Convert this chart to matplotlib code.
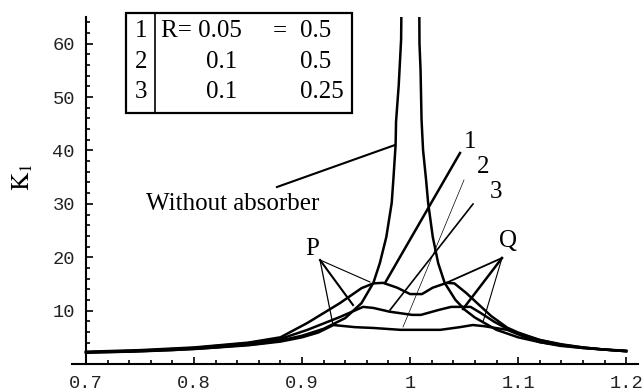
import matplotlib
matplotlib.use("Agg")
import matplotlib.pyplot as plt
from matplotlib.ticker import MultipleLocator, FixedLocator, FixedFormatter

plt.rcParams['mathtext.fontset'] = 'stix'

# without absorber (left and right branch)
wa_x = [0.70, 0.74, 0.78, 0.82, 0.86, 0.88, 0.90, 0.92, 0.94, 0.955, 0.966, 0.972, 0.978,
        0.983, 0.9845, 0.9866, 0.987, 0.9895, 0.9917, 0.992]
wa_y = [2.2, 2.3, 2.6, 3.1, 3.8, 4.4, 5.3, 6.6, 8.6, 11.4, 15.2, 18.9, 23.8,
        30.2, 34.5, 41.1, 45.4, 52.3, 60.8, 67.0]
wa_x2 = [1.0085, 1.0087, 1.0097, 1.0106, 1.012, 1.0148, 1.0167, 1.021, 1.026, 1.032, 1.042,
         1.051, 1.06, 1.08, 1.10, 1.12, 1.14, 1.16, 1.18, 1.20]
wa_y2 = [67.0, 60.0, 55.0, 45.8, 40.1, 34.5, 30.2, 23.8, 18.9, 15.2, 12.0,
         10.1, 8.7, 6.4, 5.0, 4.1, 3.5, 3.0, 2.7, 2.4]

# curve 1
c1_x = [0.70, 0.75, 0.80, 0.85, 0.88, 0.905, 0.935, 0.955, 0.966, 0.975, 0.988, 1.0, 1.011,
        1.021, 1.034, 1.041, 1.052, 1.06, 1.075, 1.09, 1.10, 1.12, 1.14, 1.16, 1.18, 1.20]
c1_y = [2.3, 2.6, 3.1, 4.0, 5.0, 7.7, 11.4, 14.2, 15.1, 15.2, 14.3, 13.1, 13.1,
        14.3, 15.2, 15.1, 13.3, 11.8, 9.0, 6.8, 5.9, 4.5, 3.7, 3.1, 2.7, 2.5]

# curve 2
c2_x = [0.70, 0.75, 0.80, 0.85, 0.88, 0.905, 0.935, 0.9565, 0.966, 0.981, 1.002, 1.01,
        1.026, 1.038, 1.056, 1.065, 1.078, 1.09, 1.10, 1.12, 1.14, 1.16, 1.18, 1.20]
c2_y = [2.2, 2.5, 3.0, 3.9, 4.7, 6.4, 8.8, 10.7, 10.5, 9.8, 9.2, 9.2,
        10.1, 10.7, 10.7, 9.6, 7.9, 6.6, 5.7, 4.5, 3.6, 3.1, 2.7, 2.4]

# curve 3
c3_x = [0.70, 0.75, 0.80, 0.85, 0.88, 0.90, 0.915, 0.929, 0.949, 0.966, 0.991, 1.028,
        1.046, 1.058, 1.068, 1.09, 1.102, 1.12, 1.139, 1.16, 1.18, 1.20]
c3_y = [2.1, 2.4, 2.8, 3.5, 4.2, 5.0, 5.9, 7.3, 6.9, 6.75, 6.4, 6.4,
        6.9, 7.3, 7.1, 6.4, 5.4, 4.1, 3.4, 3.0, 2.7, 2.4]

x_ticks = [0.7, 0.8, 0.9, 1.0, 1.1, 1.2]
x_labels = ['0.7', '0.8', '0.9', '1', '1.1', '1.2']
y_ticks = [10, 20, 30, 40, 50, 60]

W, H = 643, 392
fig = plt.figure(figsize=(W / 100, H / 100), dpi=100)
ax = fig.add_axes([72 / W, 1 - 364 / H, (638 - 72) / W, (364 - 17) / H])

lw = 1.8
ax.plot(wa_x, wa_y, color='black', lw=lw)
ax.plot(wa_x2, wa_y2, color='black', lw=lw)
ax.plot(c1_x, c1_y, color='black', lw=lw)
ax.plot(c2_x, c2_y, color='black', lw=lw)
ax.plot(c3_x, c3_y, color='black', lw=lw)

ax.set_xlim(0.687, 1.211)
ax.set_ylim(0, 65)

for s in ['top', 'right']:
    ax.spines[s].set_visible(False)
ax.spines['left'].set_position(('data', 0.7))
ax.spines['left'].set_linewidth(1.5)
ax.spines['bottom'].set_linewidth(1.5)

ax.xaxis.set_major_locator(FixedLocator(x_ticks))
ax.xaxis.set_major_formatter(FixedFormatter(x_labels))
ax.xaxis.set_minor_locator(MultipleLocator(0.02))
ax.yaxis.set_major_locator(FixedLocator(y_ticks))
ax.yaxis.set_minor_locator(MultipleLocator(2))
ax.tick_params(which='both', direction='in', width=1.2)
ax.tick_params(which='major', length=5)
ax.tick_params(which='minor', length=3)
ax.tick_params(axis='x', pad=8)
ax.tick_params(axis='y', pad=8)
for lab in ax.get_xticklabels() + ax.get_yticklabels():
    lab.set_family('Liberation Mono')
    lab.set_fontsize(13.5)
    lab.set_color('#222222')


def fx(px):
    return px / W


def fy(py):
    return 1 - py / H


def leader(p0, p1, w):
    fig.add_artist(plt.Line2D([fx(p0[0]), fx(p1[0])], [fy(p0[1]), fy(p1[1])],
                              color='black', lw=w, transform=fig.transFigure))


serif = dict(family='Liberation Serif', fontsize=18, color='black')

fig.text(fx(23), fy(177), r'$\mathrm{K}_1$', rotation=90, ha='center', va='center', fontsize=18)

# leaders
leader((277, 187), (395, 145), 1.5)
leader((460, 153), (385, 283), 1.8)
leader((464, 180), (403, 327), 0.5)
leader((473, 204), (390, 310), 1.2)
leader((320, 260), (370, 282), 0.8)
leader((320, 260), (353, 305), 1.5)
leader((320, 260), (333, 325), 0.9)
leader((502, 258), (446, 283), 1.3)
leader((502, 258), (463, 309), 1.8)
leader((502, 258), (483, 322), 0.8)

fig.text(fx(146), fy(204), 'Without absorber', ha='left', va='center', **serif)
fig.text(fx(470), fy(142), '1', ha='center', va='center', **serif)
fig.text(fx(483), fy(167), '2', ha='center', va='center', **serif)
fig.text(fx(496), fy(192), '3', ha='center', va='center', **serif)
fig.text(fx(312), fy(249), 'P', ha='center', va='center', **serif)
fig.text(fx(508), fy(241), 'Q', ha='center', va='center', **serif)

# table
fig.add_artist(plt.Rectangle((fx(126), fy(113)), fx(352) - fx(126), fy(13) - fy(113),
                             fill=False, lw=1.6, ec='black', transform=fig.transFigure))
leader((155, 13), (155, 113), 1.2)
rows_y = [31, 62, 92]
for i, ry in enumerate(rows_y):
    fig.text(fx(141), fy(ry), str(i + 1), ha='center', va='center', **serif)
fig.text(fx(161), fy(31), 'R= 0.05', ha='left', va='center', **serif)
fig.text(fx(222), fy(62), '0.1', ha='center', va='center', **serif)
fig.text(fx(222), fy(92), '0.1', ha='center', va='center', **serif)
fig.text(fx(273), fy(31), '=', ha='left', va='center', **serif)
fig.text(fx(300), fy(31), '0.5', ha='left', va='center', **serif)
fig.text(fx(300), fy(62), '0.5', ha='left', va='center', **serif)
fig.text(fx(300), fy(92), '0.25', ha='left', va='center', **serif)

fig.savefig('out.png', dpi=100)
